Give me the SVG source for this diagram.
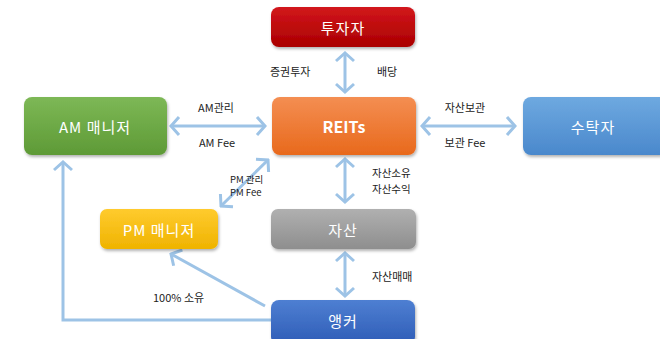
<svg xmlns="http://www.w3.org/2000/svg" width="660" height="339" viewBox="0 0 660 339">
<style>
.lbl{font-family:"Noto Sans CJK KR","Noto Sans",sans-serif;font-size:11px;fill:#222}
.sm{font-size:9.5px}
.nt{font-family:"Noto Sans CJK KR","Noto Sans",sans-serif;font-size:15px;fill:#fff;text-anchor:middle;dominant-baseline:central;letter-spacing:1px}
.cn{fill:none;stroke:#9DC3E6;stroke-width:3}
</style>
<defs>
<filter id="sh" x="-10%" y="-10%" width="125%" height="135%"><feDropShadow dx="1" dy="2" stdDeviation="1.5" flood-color="#000" flood-opacity="0.3"/></filter>
<linearGradient id="gR" x1="0" y1="0" x2="0" y2="1"><stop offset="0" stop-color="#D2161C"/><stop offset="1" stop-color="#AA0000"/></linearGradient>
<linearGradient id="gO" x1="0" y1="0" x2="0" y2="1"><stop offset="0" stop-color="#F48E52"/><stop offset="1" stop-color="#E8691C"/></linearGradient>
<linearGradient id="gG" x1="0" y1="0" x2="0" y2="1"><stop offset="0" stop-color="#7DB856"/><stop offset="1" stop-color="#5E9A36"/></linearGradient>
<linearGradient id="gB" x1="0" y1="0" x2="0" y2="1"><stop offset="0" stop-color="#6EA9E0"/><stop offset="1" stop-color="#4A88CC"/></linearGradient>
<linearGradient id="gY" x1="0" y1="0" x2="0" y2="1"><stop offset="0" stop-color="#FFCB2E"/><stop offset="1" stop-color="#EFB300"/></linearGradient>
<linearGradient id="gS" x1="0" y1="0" x2="0" y2="1"><stop offset="0" stop-color="#B0B0B0"/><stop offset="1" stop-color="#8E8E8E"/></linearGradient>
<linearGradient id="gA" x1="0" y1="0" x2="0" y2="1"><stop offset="0" stop-color="#4E7FD2"/><stop offset="1" stop-color="#2E5CB6"/></linearGradient>
<marker id="ah" viewBox="-10 -10 12 20" markerWidth="12" markerHeight="20" refX="0" refY="0" markerUnits="userSpaceOnUse" orient="auto-start-reverse">
<path d="M-8,-9 L0,0 L-8,9" fill="none" stroke="#9DC3E6" stroke-width="3"/>
</marker>
</defs>

<g id="connectors">
<line class="cn" x1="345" y1="53" x2="345" y2="92" marker-start="url(#ah)" marker-end="url(#ah)"/>
<line class="cn" x1="171" y1="126" x2="265" y2="126" marker-start="url(#ah)" marker-end="url(#ah)"/>
<line class="cn" x1="422" y1="126" x2="515" y2="126" marker-start="url(#ah)" marker-end="url(#ah)"/>
<line class="cn" x1="345" y1="159" x2="345" y2="202" marker-start="url(#ah)" marker-end="url(#ah)"/>
<line class="cn" x1="345" y1="253" x2="345" y2="296" marker-start="url(#ah)" marker-end="url(#ah)"/>
<line class="cn" x1="221" y1="206" x2="268" y2="160" marker-start="url(#ah)" marker-end="url(#ah)"/>
<line class="cn" x1="265" y1="306" x2="171" y2="254" marker-end="url(#ah)"/>
<polyline class="cn" points="271,320 63,320 63,162" marker-end="url(#ah)"/>
</g>

<g id="n-investor"><rect x="271" y="7" width="144" height="40" rx="8" fill="url(#gR)" filter="url(#sh)"/><text class="nt" x="343" y="27">투자자</text></g>
<g id="n-reits"><rect x="272" y="97" width="144" height="58" rx="8" fill="url(#gO)" filter="url(#sh)"/><text class="nt" x="344" y="126" style="font-weight:bold;font-size:16px;letter-spacing:0">REITs</text></g>
<g id="n-am"><rect x="24" y="97" width="143" height="58" rx="8" fill="url(#gG)" filter="url(#sh)"/><text class="nt" x="95" y="126">AM 매니저</text></g>
<g id="n-trustee"><rect x="523" y="97" width="145" height="58" rx="8" fill="url(#gB)" filter="url(#sh)"/><text class="nt" x="593" y="126">수탁자</text></g>
<g id="n-pm"><rect x="100" y="209" width="118" height="40" rx="7" fill="url(#gY)" filter="url(#sh)"/><text class="nt" x="159" y="229">PM 매니저</text></g>
<g id="n-asset"><rect x="271" y="209" width="145" height="40" rx="7" fill="url(#gS)" filter="url(#sh)"/><text class="nt" x="343" y="229">자산</text></g>
<g id="n-anchor"><rect x="271" y="300" width="144" height="45" rx="8" fill="url(#gA)" filter="url(#sh)"/><text class="nt" x="343" y="320">앵커</text></g>

<g id="labels">
<text class="lbl" x="270" y="76">증권투자</text>
<text class="lbl" x="377" y="76">배당</text>
<text class="lbl" x="216" y="112" text-anchor="middle">AM관리</text>
<text class="lbl" x="217" y="147" text-anchor="middle">AM Fee</text>
<text class="lbl" x="465" y="112" text-anchor="middle">자산보관</text>
<text class="lbl" x="465" y="147" text-anchor="middle">보관 Fee</text>
<text class="lbl sm" x="230" y="183">PM 관리</text>
<text class="lbl sm" x="230" y="196">PM Fee</text>
<text class="lbl" x="372" y="177" style="font-size:10.5px">자산소유</text>
<text class="lbl" x="372" y="193" style="font-size:10.5px">자산수익</text>
<text class="lbl" x="372" y="281">자산매매</text>
<text class="lbl" x="153" y="302">100% 소유</text>
</g>
</svg>
